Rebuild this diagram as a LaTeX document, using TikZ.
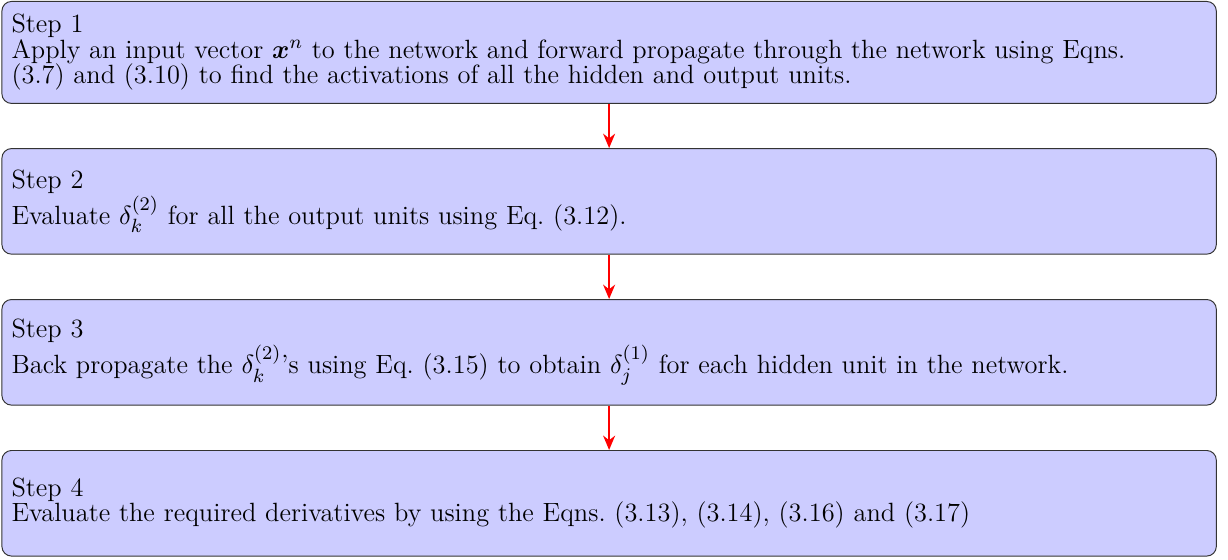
\documentclass[tikz,border=0pt]{standalone}
\usepackage{amsmath,bm}
\usetikzlibrary{arrows.meta}
\begin{document}
\begin{tikzpicture}[x=1pt,y=1pt,
  stepbox/.style={draw=black!80, fill=blue!20, rounded corners=4pt,
    minimum width=506pt, minimum height=44pt, text width=498pt,
    align=left, inner sep=4pt, anchor=north west,
    font=\fontsize{11}{10.6}\selectfont},
  flow/.style={red, thick, -{Stealth[length=6pt,width=5pt]}}]
  \useasboundingbox (0,0) rectangle (511.67,-232.92);
  \node[stepbox, minimum height=42.5pt] (s1) at (0.6,-0.4)
    {Step 1\\Apply an input vector $\bm{x}^n$ to the network and forward propagate through the network using Eqns.\\(3.7) and (3.10) to find the activations of all the hidden and output units.};
  \node[stepbox] (s2) at (0.6,-61.7)
    {Step 2\\Evaluate $\delta_k^{(2)}$ for all the output units using Eq.~(3.12).};
  \node[stepbox] (s3) at (0.6,-124.6)
    {Step 3\\Back propagate the $\delta_k^{(2)}$'s using Eq.~(3.15) to obtain $\delta_j^{(1)}$ for each hidden unit in the network.};
  \node[stepbox] (s4) at (0.6,-187.5)
    {Step 4\\Evaluate the required derivatives by using the Eqns.~(3.13), (3.14), (3.16) and (3.17)};
  \draw[flow] (s1.south) -- (s2.north);
  \draw[flow] (s2.south) -- (s3.north);
  \draw[flow] (s3.south) -- (s4.north);
\end{tikzpicture}
\end{document}
